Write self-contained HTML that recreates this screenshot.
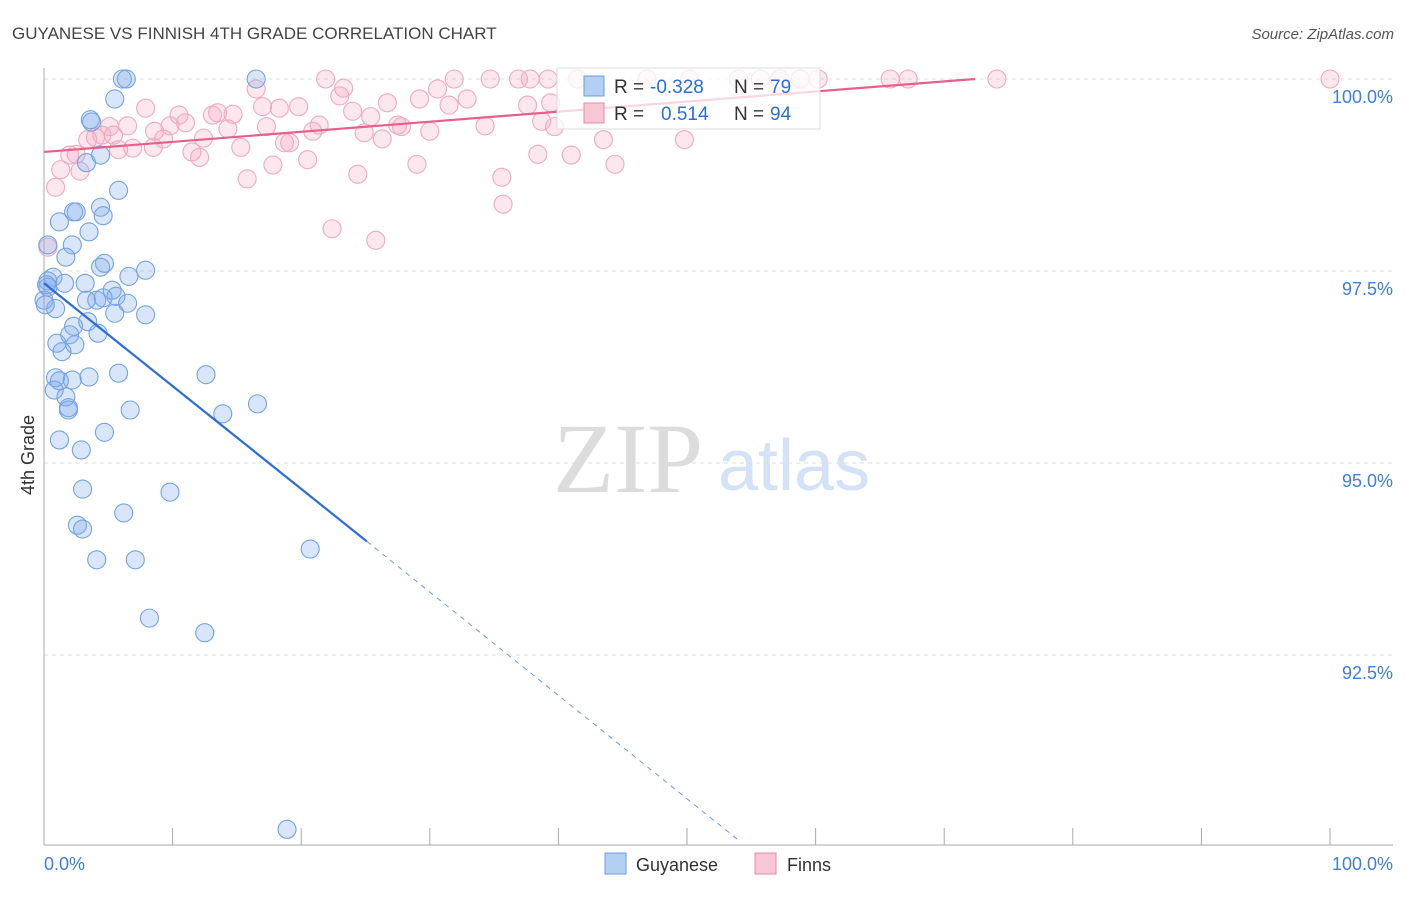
<!DOCTYPE html>
<html><head><meta charset="utf-8"><style>
body{margin:0;background:#fff;font-family:"Liberation Sans",sans-serif;}
svg text{font-family:"Liberation Sans",sans-serif;}
</style></head><body>
<svg id="chart" width="1406" height="892" xmlns="http://www.w3.org/2000/svg">
<text x="12" y="39" font-size="17" fill="#444">GUYANESE VS FINNISH 4TH GRADE CORRELATION CHART</text>
<text x="1394" y="39" font-size="15" fill="#555" text-anchor="end" font-style="italic">Source: ZipAtlas.com</text>
<g>
<text x="553" y="492" font-size="100" style="font-family:'Liberation Serif',serif" fill="#dcdcdc">ZIP</text>
<text x="718" y="490" font-size="72" fill="#d3e2f6">atlas</text>
</g>
<g id="grid"></g>
<g id="axes"></g>
<g id="points"></g>
<g id="trends"></g>
<g>
<rect x="557" y="68" width="263" height="61" fill="#fff" fill-opacity="0.75" stroke="#ddd"/>
<rect x="584" y="76" width="20" height="20" fill="#b5cff2" stroke="#6a9be0"/>
<text x="614" y="93" font-size="19" fill="#333">R = </text><text x="650" y="93" font-size="19" fill="#2a6ed6">-0.328</text>
<text x="734" y="93" font-size="19" fill="#333">N = </text><text x="770" y="93" font-size="19" fill="#2a6ed6">79</text>
<rect x="584" y="103" width="20" height="20" fill="#f8c6d5" stroke="#e88aa8"/>
<text x="614" y="120" font-size="19" fill="#333">R = </text><text x="661" y="120" font-size="19" fill="#2a6ed6">0.514</text>
<text x="734" y="120" font-size="19" fill="#333">N = </text><text x="770" y="120" font-size="19" fill="#2a6ed6">94</text>
</g>
<g>
<rect x="605" y="853" width="21" height="21" fill="#b5cff2" stroke="#6a9be0"/>
<text x="636" y="871" font-size="18" fill="#333">Guyanese</text>
<rect x="755" y="853" width="21" height="21" fill="#f8c6d5" stroke="#e88aa8"/>
<text x="787" y="871" font-size="18" fill="#333">Finns</text>
</g>
<text transform="translate(34,455) rotate(-90)" font-size="18" fill="#333" text-anchor="middle">4th Grade</text>
</svg>
<script>
const yTicks=[100,97.5,95,92.5];
const yTickLabels=["100.0%","97.5%","95.0%","92.5%"];
const xTicks=[0,10,20,30,40,50,60,70,80,90,100];
const blueX=[6.1,6.4,16.5,5.5,3.6,3.7,4.4,3.3,5.8,4.4,2.3,2.5,4.6,1.2,3.5,0.3,2.2,1.7,4.7,7.9,4.4,6.6,0.7,0.3,0.3,1.6,3.2,5.3,5.6,3.3,4.1,4.6,6.5,0.9,5.5,7.9,2.3,2.0,3.4,4.2,1.0,2.4,1.4,5.8,12.6,0.9,1.2,2.2,3.5,0.8,1.7,1.9,1.9,6.7,13.9,16.6,4.7,1.2,2.9,3.0,9.8,6.2,2.6,3.0,4.1,7.1,8.2,12.5,20.7,18.9,0.2,0.0,0.1];
const blueY=[100,100,100,99.74,99.47,99.44,99.01,98.91,98.55,98.33,98.27,98.27,98.22,98.14,98.01,97.84,97.84,97.68,97.60,97.51,97.55,97.43,97.42,97.37,97.29,97.34,97.34,97.25,97.17,97.12,97.12,97.15,97.08,97.01,96.95,96.93,96.78,96.67,96.84,96.69,96.56,96.54,96.45,96.17,96.15,96.11,96.07,96.08,96.12,95.95,95.86,95.72,95.69,95.69,95.64,95.77,95.40,95.30,95.17,94.66,94.62,94.35,94.19,94.14,93.74,93.74,92.98,92.79,93.88,90.23,97.32,97.12,97.06];
const pinkX=[21.9,31.9,34.7,36.9,37.8,39.2,41.5,46.9,50.2,54.0,55.7,57.2,58.8,60.2,65.8,67.2,74.1,100,16.5,23.3,23.0,30.6,32.9,31.5,29.2,26.7,19.8,17.0,18.3,37.6,39.4,7.9,10.5,13.1,13.5,14.7,24.0,11.0,9.8,8.6,5.1,5.4,6.5,4.0,3.4,4.5,17.3,21.4,20.9,14.3,25.4,27.5,27.8,30.0,34.3,38.7,39.7,24.9,26.3,12.4,9.3,8.5,5.8,6.9,15.3,19.1,18.7,11.5,12.1,2.0,2.5,20.5,17.8,29.0,38.4,41.0,43.5,44.4,49.8,1.3,2.8,0.9,15.8,24.4,35.6,35.7,22.4,25.8,0.3];
const pinkY=[100,100,100,100,100,100,100,100,100,100,100,100,100,100,100,100,100,100,99.87,99.88,99.78,99.87,99.74,99.66,99.74,99.69,99.64,99.64,99.62,99.66,99.69,99.62,99.53,99.53,99.56,99.54,99.58,99.43,99.39,99.32,99.38,99.27,99.39,99.24,99.21,99.27,99.38,99.40,99.32,99.35,99.51,99.40,99.38,99.32,99.39,99.45,99.38,99.30,99.22,99.23,99.22,99.11,99.08,99.10,99.11,99.17,99.17,99.05,98.98,99.01,99.02,98.95,98.88,98.89,99.02,99.01,99.21,98.89,99.21,98.82,98.80,98.59,98.70,98.76,98.72,98.37,98.05,97.90,97.81];
const blueTrend=[[0,97.34],[25.1,93.98],[54.0,90.09]];
const pinkTrend=[[0,99.05],[72.4,100]];
const NS="http://www.w3.org/2000/svg";
const X0=44,X1=1330,YTOP=79,YPX=76.8;
function xs(v){return X0+(X1-X0)*v/100;}
function ys(v){return YTOP+(100-v)*YPX;}
function mk(tag,attrs,parent){const e=document.createElementNS(NS,tag);for(const k in attrs)e.setAttribute(k,attrs[k]);parent.appendChild(e);return e;}
const grid=document.getElementById('grid'),axes=document.getElementById('axes'),pts=document.getElementById('points'),tr=document.getElementById('trends');
yTicks.forEach((t,i)=>{
 const l=mk('line',{x1:44,x2:1393,y1:ys(t),y2:ys(t),stroke:'#ddd','stroke-dasharray':'4,4'},grid);
 
 
 const tx=mk('text',{x:1393,y:ys(t)+24,'font-size':18,fill:'#3f7fd9','text-anchor':'end'},grid);
 tx.textContent=yTickLabels[i];
 
 
});
const ya=mk('line',{x1:44,x2:44,y1:68,y2:845,stroke:'#aaa'},axes);


const xa=mk('line',{x1:44,x2:1393,y1:845,y2:845,stroke:'#aaa'},axes);


xTicks.forEach(t=>{
 const l=mk('line',{x1:xs(t),x2:xs(t),y1:828,y2:845,stroke:'#aaa'},axes);
 
 
});
const xl0=mk('text',{x:44,y:870,'font-size':18,fill:'#3f7fd9'},axes);xl0.textContent='0.0%';


const xl1=mk('text',{x:1393,y:870,'font-size':18,fill:'#3f7fd9','text-anchor':'end'},axes);xl1.textContent='100.0%';


pinkX.forEach((x,i)=>{
 const c=mk('circle',{cx:xs(x),cy:ys(pinkY[i]),r:9,fill:'rgba(244,170,195,0.28)',stroke:'#efa9c0','stroke-width':1.1},pts);
 
 
});
blueX.forEach((x,i)=>{
 const c=mk('circle',{cx:xs(x),cy:ys(blueY[i]),r:9,fill:'rgba(130,172,236,0.3)',stroke:'#74a3e3','stroke-width':1.1},pts);
 
 
});
const b1=mk('line',{x1:xs(blueTrend[0][0]),y1:ys(blueTrend[0][1]),x2:xs(blueTrend[1][0]),y2:ys(blueTrend[1][1]),stroke:'#2a6ed6','stroke-width':2.2},tr);


const b2=mk('line',{x1:xs(blueTrend[1][0]),y1:ys(blueTrend[1][1]),x2:xs(blueTrend[2][0]),y2:ys(blueTrend[2][1]),stroke:'#6a9be0','stroke-width':1,'stroke-dasharray':'5,5'},tr);


const p1=mk('line',{x1:xs(pinkTrend[0][0]),y1:ys(pinkTrend[0][1]),x2:xs(pinkTrend[1][0]),y2:ys(pinkTrend[1][1]),stroke:'#e5608a','stroke-width':2.2},tr);


</script>
</body></html>
